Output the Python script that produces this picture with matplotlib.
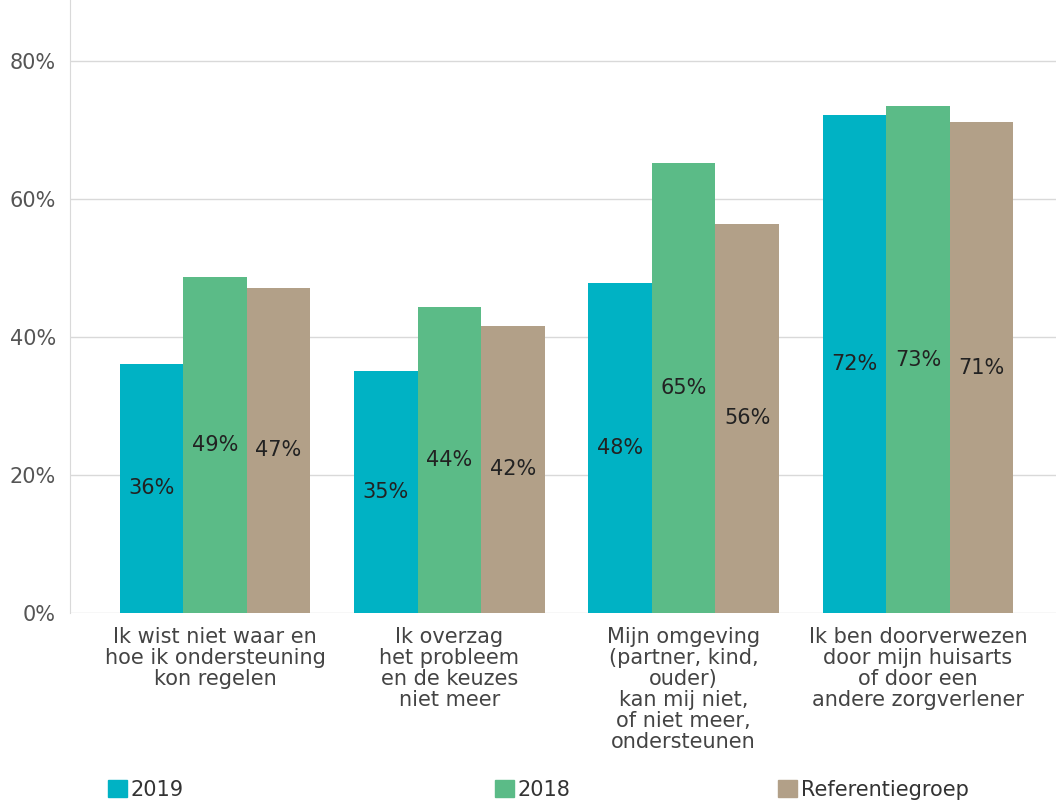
import matplotlib
matplotlib.use("Agg")
import matplotlib.pyplot as plt
from matplotlib.patches import Patch
import numpy as np

plt.rcParams["font.family"] = ["DejaVu Sans"]

categories = [
    "Ik wist niet waar en\nhoe ik ondersteuning\nkon regelen",
    "Ik overzag\nhet probleem\nen de keuzes\nniet meer",
    "Mijn omgeving\n(partner, kind,\nouder)\nkan mij niet,\nof niet meer,\nondersteunen",
    "Ik ben doorverwezen\ndoor mijn huisarts\nof door een\nandere zorgverlener",
]
series_names = ["2019", "2018", "Referentiegroep"]
values_2019 = [36.1, 35.1, 47.8, 72.2]
values_2018 = [48.7, 44.4, 65.2, 73.4]
values_ref = [47.1, 41.6, 56.4, 71.1]
yticks = [0, 20, 40, 60, 80]
ytick_labels = ["0%", "20%", "40%", "60%", "80%"]

colors = ["#00B2C4", "#5BBB87", "#B2A088"]
FS = 15

fig = plt.figure(figsize=(10.56, 8.02), dpi=100)
ax = fig.add_axes([70/1056, 1-613/802, 1-70/1056, 613/802])

x = np.arange(len(categories))
w = 0.271
handles = []
for i, (vals, c, name) in enumerate(zip([values_2019, values_2018, values_ref], colors, series_names)):
    bars = ax.bar(x + (i-1)*w, vals, width=w, color=c, label=name, zorder=3)
    handles.append(bars)
    for xi, v in zip(x, vals):
        ax.text(xi + (i-1)*w, v/2, f"{round(v)}%", ha="center", va="center",
                fontsize=FS, color="#222222", zorder=4)

ax.set_xlim(-0.619, 3.589)
ax.set_ylim(0, 88.8)
ax.set_yticks(yticks)
ax.set_yticklabels(ytick_labels, fontsize=FS, color="#555555")
ax.tick_params(axis="y", length=0, pad=10)
ax.tick_params(axis="x", length=0, pad=10)
ax.set_xticks(x)
ax.set_xticklabels(categories, fontsize=FS, color="#444444", linespacing=1.06)
ax.grid(axis="y", color="#d9d9d9", linewidth=1, zorder=0)
for s in ["top", "right", "bottom"]:
    ax.spines[s].set_visible(False)
ax.spines["left"].set_color("#d9d9d9")

leg_x = [108/1056, 495/1056, 778/1056]
for h, name, lx in zip(handles, series_names, leg_x):
    lg = fig.legend([Patch(color=h.patches[0].get_facecolor())], [name],
                    loc="center left", bbox_to_anchor=(lx, 1-790/802),
                    frameon=False, fontsize=FS, handlelength=0.9, handleheight=0.9,
                    handletextpad=0.2, borderaxespad=0, borderpad=0)
    for t in lg.get_texts():
        t.set_color("#333333")

fig.savefig("out.png", dpi=100)
